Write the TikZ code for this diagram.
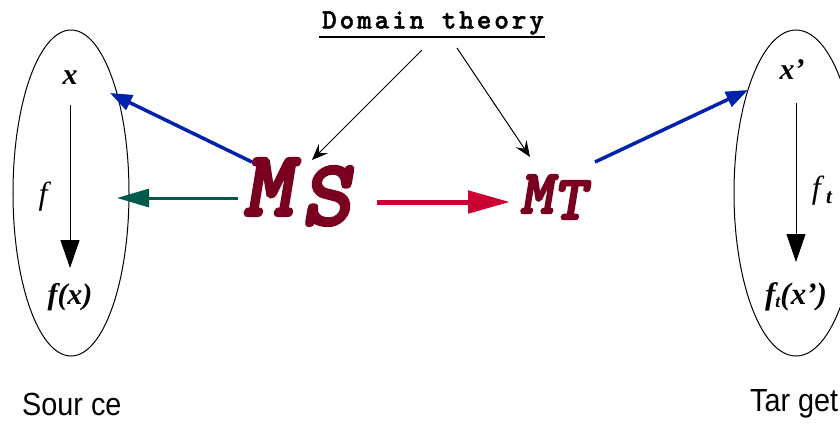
\documentclass[tikz,border=0pt]{standalone}
\usepackage{fontspec}
\setmainfont{Liberation Serif}
\newfontfamily\monofam{lmmonolt10-boldoblique}[Extension=.otf, FakeBold=3]
\newfontfamily\domfam{lmmonolt10-bold}[Extension=.otf, LetterSpace=10, FakeBold=1.5]
\newfontfamily\sansfam[FakeStretch=0.9]{Liberation Sans}
\usetikzlibrary{arrows.meta,shapes.geometric,calc}
\definecolor{msred}{RGB}{122,0,32}
\definecolor{arrred}{RGB}{204,0,51}
\definecolor{arrblue}{RGB}{0,34,170}
\definecolor{arrgreen}{RGB}{0,90,75}
\begin{document}
\begin{tikzpicture}[x=1bp,y=-1bp,
  lbl/.style={inner sep=0pt},
  setbox/.style={draw, ellipse, line width=1bp, inner sep=0pt},
  mathbi/.style={lbl, font=\bfseries\itshape\fontsize{30bp}{32bp}\selectfont},
  mathit/.style={lbl, font=\itshape\fontsize{32bp}{34bp}\selectfont},
  maparrow/.style={line width=1bp, -{Triangle[length=28bp,width=19bp]}},
  domarrow/.style={line width=1bp, -{Stealth[length=16bp,width=13bp,inset=6bp]}},
  bluearrow/.style={arrblue, line width=3.5bp, -{Triangle[length=22bp,width=16bp]}},
  caption/.style={lbl, font=\sansfam\fontsize{32bp}{34bp}\selectfont}
]
\useasboundingbox (0,0) rectangle (840,423);
\clip (0,0) rectangle (840,423);
% source set
\node[setbox, minimum width=116bp, minimum height=326bp] (src) at (71,193) {};
\node[mathbi] (x) at (70,78) {x};
\node[mathbi] (fx) at (70,297) {f(x)};
\node[mathit] (flab) at (43,197) {f};
\draw[maparrow] ($(x.center)+(0,27)$) -- ($(fx.center)+(0,-29)$);
% target set
\node[setbox, minimum width=124bp, minimum height=326bp] (tgt) at (796,193) {};
\node[mathbi] (xp) at (792,70) {x’};
\node[mathbi, font=\bfseries\itshape\fontsize{31bp}{33bp}\selectfont] (ftx) at (796,297) {f\raisebox{-3bp}{\fontsize{18bp}{18bp}\selectfont t}(x’)};
\node[mathit] (ftlab) at (822,191) {f\,\raisebox{-5bp}{\bfseries\fontsize{21bp}{21bp}\selectfont t}};
\draw[maparrow] ($(xp.center)+(4,33)$) -- ($(ftx.center)+(0,-35)$);
% domain theory
\node[lbl, font=\domfam\fontsize{28bp}{30bp}\selectfont] (dom) at (433,23) {Domain theory};
\draw[line width=2bp] ($(dom.south west)+(-3,2)$) -- ($(dom.south east)+(1,2)$);
% models
\node[lbl, text=msred, font=\monofam\fontsize{94bp}{96bp}\selectfont] (ms) at (297,192) {M\kern9bp\raisebox{-9bp}{S}};
\node[lbl, text=msred, font=\monofam\fontsize{63bp}{64bp}\selectfont] (mt) at (553,197) {M\raisebox{-6bp}{T}};
% connectors
\draw[domarrow] ($(dom.center)+(-11,27)$) -- ($(ms.center)+(15,-32)$);
\draw[domarrow] ($(dom.center)+(24,25)$) -- ($(mt.center)+(-23,-40)$);
\draw[arrred, line width=5bp, -{Triangle[length=42bp,width=22bp]}] ($(ms.center)+(80,10)$) -- ($(mt.center)+(-43,5)$);
\draw[arrgreen, line width=3bp, -{Triangle[length=32bp,width=18bp]}] ($(ms.center)+(-59,6)$) -- ($(src.center)+(46,5)$);
\draw[bluearrow] ($(ms.center)+(-45,-30)$) -- ($(x.center)+(40,15)$);
\draw[bluearrow] ($(mt.center)+(42,-35)$) -- ($(xp.center)+(-44,20)$);
% captions
\node[caption, anchor=west] (srccap) at (22,404) {Sour ce};
\node[caption, anchor=west] (tgtcap) at (750,404) {Tar get};
\end{tikzpicture}
\end{document}
